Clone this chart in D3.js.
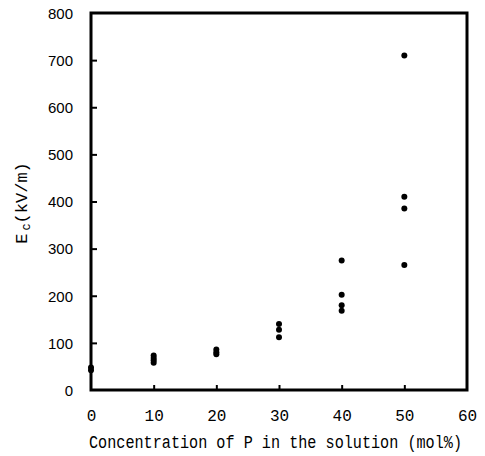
<!DOCTYPE html>
<html>
<head>
<meta charset="utf-8">
<script src="https://cdn.jsdelivr.net/npm/d3@7"></script>
<style>
  body { margin: 0; background: #fff; }
</style>
</head>
<body>
<div id="chart"></div>
<script>
// Data
var concentration = [0, 0, 10, 10, 10, 10, 20, 20, 20, 30, 30, 30, 40, 40, 40, 40, 50, 50, 50, 50];
var coerciveField = [42, 48, 58, 63, 68, 73, 76, 80, 86, 112, 128, 140, 168, 180, 202, 275, 265, 385, 410, 710];
var xTicks = [0, 10, 20, 30, 40, 50, 60];
var yTicks = [0, 100, 200, 300, 400, 500, 600, 700, 800];

var attrs = {
  svgWidth: 485,
  svgHeight: 456,
  marginTop: 13,
  marginLeft: 91,
  marginRight: 18,
  marginBottom: 66,
  tickFont: '"Liberation Sans", Arial, sans-serif',
  labelFont: '"Liberation Mono", "DejaVu Sans Mono", monospace'
};

var calc = {};
calc.chartWidth = attrs.svgWidth - attrs.marginLeft - attrs.marginRight;
calc.chartHeight = attrs.svgHeight - attrs.marginTop - attrs.marginBottom;

var svg = d3.select('#chart').append('svg')
  .attr('width', attrs.svgWidth)
  .attr('height', attrs.svgHeight);

var chart = svg.append('g')
  .attr('transform', 'translate(' + attrs.marginLeft + ',' + attrs.marginTop + ')');

var x = d3.scaleLinear().domain([0, 60]).range([0, calc.chartWidth]);
var y = d3.scaleLinear().domain([0, 800]).range([calc.chartHeight, 0]);

// inward ticks, labels pushed outside with padding
var xAxis = chart.append('g')
  .attr('transform', 'translate(0,' + calc.chartHeight + ')')
  .call(d3.axisBottom(x).tickValues(xTicks).tickSize(-5).tickPadding(20).tickSizeOuter(0));
var yAxis = chart.append('g')
  .call(d3.axisLeft(y).tickValues(yTicks).tickSize(-6).tickPadding(18).tickSizeOuter(0));

[xAxis, yAxis].forEach(function (a) {
  a.select('.domain').remove();
  a.selectAll('line').attr('stroke', '#000').attr('stroke-width', 2);
  a.selectAll('text').attr('fill', '#000');
});
xAxis.selectAll('text')
  .attr('font-family', attrs.labelFont)
  .attr('font-size', 16);
yAxis.selectAll('text')
  .attr('font-family', attrs.tickFont)
  .attr('font-size', 15)
  .attr('dy', '0.35em');
// no tick marks at the frame corners
xAxis.selectAll('.tick').filter(function (d) { return d === 0 || d === 60; }).select('line').remove();
yAxis.selectAll('.tick').filter(function (d) { return d === 0 || d === 800; }).select('line').remove();

// frame
chart.append('rect')
  .attr('x', 0).attr('y', 0)
  .attr('width', calc.chartWidth)
  .attr('height', calc.chartHeight)
  .attr('fill', 'none')
  .attr('stroke', '#000')
  .attr('stroke-width', 3);

// points
chart.append('g').selectAll('circle')
  .data(concentration.map(function (c, i) { return { c: c, e: coerciveField[i] }; }))
  .enter().append('circle')
  .attr('cx', function (d) { return x(d.c); })
  .attr('cy', function (d) { return y(d.e); })
  .attr('r', 3)
  .attr('fill', '#000');

// x label (narrow, tall monospace like a Gothic half-width face)
svg.append('text')
  .attr('x', 89)
  .attr('y', 448)
  .attr('font-family', attrs.labelFont)
  .attr('font-size', 18)
  .attr('textLength', 373)
  .attr('lengthAdjust', 'spacingAndGlyphs')
  .attr('fill', '#000')
  .text('Concentration of P in the solution (mol%)');

// y label with subscript
var yl = svg.append('text')
  .attr('transform', 'translate(27,203) rotate(-90)')
  .attr('text-anchor', 'middle')
  .attr('font-family', attrs.labelFont)
  .attr('font-size', 17)
  .attr('fill', '#000');
yl.append('tspan').text('E');
yl.append('tspan').attr('font-size', 12).attr('dy', 3).attr('dx', 3).text('c');
yl.append('tspan').attr('dy', -3).text('(kV/m)');
</script>
</body>
</html>
